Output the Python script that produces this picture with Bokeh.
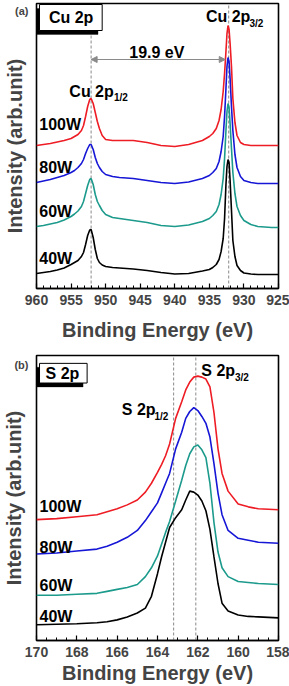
from bokeh.plotting import figure
from bokeh.layouts import column
from bokeh.models import (Range1d, SingleIntervalTicker, FixedTicker, Label, Arrow,
                          NormalHead, BoxAnnotation)
from bokeh.embed import file_html
from bokeh.resources import INLINE

FONT = "Liberation Sans"

# ---- Cu 2p spectra (binding energy in eV, intensity in arbitrary units) ----
cu_energy = [960, 959, 958, 957, 956, 955, 954.5, 954, 953.5, 953.2,
             952.9, 952.6, 952.3, 952.1, 951.8, 951.5, 951.2, 950.9, 950.5, 950,
             949, 948, 946, 944, 942, 940, 938, 936, 935, 934.5,
             934, 933.6, 933.3, 933.0, 932.8, 932.6, 932.45, 932.3, 932.15, 932.0,
             931.8, 931.6, 931.3, 931.0, 930.5, 930, 929, 928, 926, 925]
cu_40w = [15, 16, 17, 18.5, 20.5, 24, 26, 28, 32, 36,
          44, 53, 58.5, 59, 51, 39, 30, 26, 23.5, 22,
          21, 20.5, 19.5, 18, 16, 14.5, 15, 17.5, 19, 21,
          24, 29, 37, 50, 70, 104, 122, 129, 126, 108,
          78, 48, 32, 23, 18, 15.5, 14.5, 14, 14, 14]
cu_60w = [62, 63, 64.5, 66, 68.5, 72, 74.5, 77.5, 82, 87,
          95, 103, 109, 110, 104, 94, 87, 83, 78, 74,
          71, 70, 68, 66, 63, 62, 63.5, 67, 70, 73,
          77, 84, 94, 110, 130, 158, 177, 185, 181, 165,
          140, 116, 95, 82, 73, 68, 64, 62, 61, 61]
cu_80w = [106, 107.5, 109, 111, 113, 116, 118, 121, 125, 129,
          135, 140, 144, 144, 139, 131, 125, 121, 117, 114,
          112, 111, 110, 108, 106, 105, 106.5, 110, 113, 116,
          120, 127, 137, 152, 172, 200, 222, 231, 227, 210,
          182, 158, 134, 121, 112, 108, 106, 105, 105, 105]
cu_100w = [143, 144, 145, 146.5, 148, 150, 152, 154, 158, 163,
           172, 182, 189, 190, 185, 176, 167, 160, 153, 149,
           148, 148, 148, 146, 143, 142, 144, 148, 152, 155,
           160, 168, 179, 197, 215, 237, 255, 263, 259, 245,
           222, 190, 166, 153, 146, 144, 143, 143, 143, 143]
cu_peaks = [952.1, 932.2]
cu_split = "19.9 eV"

# ---- S 2p spectra ----
s_energy = [170, 169, 168, 167, 166.5, 166, 165.5, 165, 164.6, 164.3,
            164.0, 163.8, 163.6, 163.4, 163.1, 162.8, 162.6, 162.4, 162.2, 162.0,
            161.8, 161.6, 161.4, 161.2, 161.0, 160.8, 160.5, 160.0, 159.5, 159, 158]
s_40w = [16, 16.5, 17, 18, 19, 21, 24, 28, 33, 45,
         68, 85, 100, 115, 125, 133, 143, 152, 151, 148,
         142, 132, 113, 85, 58, 38, 30, 26, 24.5, 24, 23]
s_60w = [46, 46, 47, 48, 50, 52, 54, 57, 65, 74,
         86, 98, 110, 121, 142, 163, 178, 190, 197, 199,
         194, 186, 160, 120, 90, 74, 65, 60, 59, 58, 57]
s_80w = [88, 89, 91, 93, 96, 100, 105, 112, 122, 131,
         140, 150, 160, 170, 195, 212, 226, 233, 237, 234,
         228, 221, 207, 180, 150, 128, 112, 104, 102, 100, 99]
s_100w = [123, 124, 126, 128, 131, 134, 138, 143, 151, 160,
          171, 179, 188, 200, 226, 243, 255, 263, 268, 269,
          268, 266, 258, 232, 195, 170, 152, 139, 136, 134, 133]
s_peaks = [163.2, 162.1]

powers = ["40W", "60W", "80W", "100W"]
colors = ["#000000", "#1c9a8c", "#1616d6", "#ee1c24"]
y_title = "Intensity (arb.unit)"
x_title = "Binding Energy (eV)"


def text(p, x, y, s, size, align="left"):
    p.add_layout(Label(x=x, y=y, text=s, text_font=FONT, text_font_size=f"{size}px",
                       text_font_style="bold", text_color="black", text_align=align,
                       text_baseline="middle"))


def base_figure(height, x_range, y_range, border_top, interval, minor, tag_y, tag):
    p = figure(width=289, height=height, x_range=Range1d(*x_range), y_range=Range1d(*y_range),
               output_backend="svg", toolbar_location=None,
               min_border_left=34, min_border_right=11,
               min_border_top=border_top, min_border_bottom=0)
    p.grid.visible = False
    p.outline_line_color = "black"
    p.outline_line_width = 1.6
    p.background_fill_color = "white"
    p.border_fill_color = "white"

    # bottom axis: ticks pointing into the frame
    ax = p.xaxis[0]
    ax.ticker = SingleIntervalTicker(interval=interval, num_minor_ticks=minor)
    ax.axis_line_color = "black"
    ax.axis_line_width = 1.6
    ax.major_tick_in = 5
    ax.major_tick_out = 0
    ax.minor_tick_in = 3
    ax.minor_tick_out = 0
    ax.major_tick_line_width = 1.2
    ax.minor_tick_line_width = 1.0
    ax.major_label_text_font = FONT
    ax.major_label_text_font_style = "bold"
    ax.major_label_text_font_size = "14px"
    ax.major_label_standoff = 6
    ax.axis_label = x_title
    ax.axis_label_text_font = FONT
    ax.axis_label_text_font_style = "bold"
    ax.axis_label_text_font_size = "20px"

    # left axis: no ticks, carries the panel tag and the intensity title
    ay = p.yaxis[0]
    ay.ticker = FixedTicker(ticks=[tag_y], minor_ticks=[])
    ay.major_label_overrides = {tag_y: tag}
    ay.major_tick_line_color = None
    ay.minor_tick_line_color = None
    ay.axis_line_color = None
    ay.major_label_text_font = FONT
    ay.major_label_text_font_style = "bold"
    ay.major_label_text_font_size = "11px"
    ay.major_label_standoff = 2
    ay.axis_label = y_title
    ay.axis_label_text_font = FONT
    ay.axis_label_text_font_style = "bold"
    ay.axis_label_text_font_size = "20px"
    ay.axis_label_standoff = -14
    return p


def draw_spectra(p, energy, series):
    for ys, c in zip(series, colors):
        p.line(energy, ys, line_color=c, line_width=1.6)


def tag_box(p, left, right, bottom, top, dx, dy):
    p.add_layout(BoxAnnotation(left=left + dx, right=right + dx, bottom=bottom - dy, top=top - dy,
                               fill_color="black", fill_alpha=1.0, line_color="black",
                               level="annotation"))
    p.add_layout(BoxAnnotation(left=left, right=right, bottom=bottom, top=top,
                               fill_color="white", fill_alpha=1.0, line_color="black",
                               line_width=1.0, line_alpha=1.0, level="annotation"))


# ---------------- panel (a): Cu 2p ----------------
pa = base_figure(343, (960, 925), (0, 285), 3, 5, 5, 278, "(a)")
pa.xaxis.axis_label_standoff = 11

pa.segment(x0=[cu_peaks[0]], y0=[0], x1=[cu_peaks[0]], y1=[253],
           line_color="#8a8a8a", line_dash="3 2", line_width=1)
pa.segment(x0=[cu_peaks[1]], y0=[0], x1=[cu_peaks[1]], y1=[285],
           line_color="#8a8a8a", line_dash="3 2", line_width=1)
draw_spectra(pa, cu_energy, [cu_40w, cu_60w, cu_80w, cu_100w])

pa.add_layout(Arrow(x_start=cu_peaks[0], y_start=229, x_end=cu_peaks[1] + 0.5, y_end=229,
                    line_color="#8a8a8a", line_width=1.2,
                    start=NormalHead(size=6, fill_color="#8a8a8a", line_color="#8a8a8a"),
                    end=NormalHead(size=6, fill_color="#8a8a8a", line_color="#8a8a8a")))
text(pa, 942.6, 236, cu_split, 16, align="center")

text(pa, 955.25, 197, "Cu 2p", 16)
text(pa, 948.8, 191, "1/2", 10)
text(pa, 935.5, 272, "Cu 2p", 16)
text(pa, 929.2, 265, "3/2", 10)

for lab, yy in zip(powers, [30, 77, 121, 164]):
    text(pa, 959.6, yy, lab, 16)

tag_box(pa, 959.57, 950.5, 258, 284, 0.6, 4)
text(pa, 958.2, 271, "Cu 2p", 16)

# ---------------- panel (b): S 2p ----------------
pb = base_figure(343, (170, 158), (0, 290), 12, 2, 4, 280, "(b)")
pb.xaxis.axis_label_standoff = 2

for xp in s_peaks:
    pb.segment(x0=[xp], y0=[0], x1=[xp], y1=[290],
               line_color="#8a8a8a", line_dash="3 2", line_width=1)
draw_spectra(pb, s_energy, [s_40w, s_60w, s_80w, s_100w])

text(pb, 165.77, 235, "S 2p", 16)
text(pb, 164.15, 228, "1/2", 10)
text(pb, 161.83, 275, "S 2p", 16)
text(pb, 160.16, 268, "3/2", 10)

for lab, yy in zip(powers, [24, 56, 95, 136]):
    text(pb, 169.85, yy, lab, 16)

tag_box(pb, 169.85, 167.49, 262, 282, 0.2, 4)
text(pb, 169.55, 272, "S 2p", 16)

layout = column(pa, pb, spacing=0)
open("out.html", "w").write(file_html(layout, INLINE))
